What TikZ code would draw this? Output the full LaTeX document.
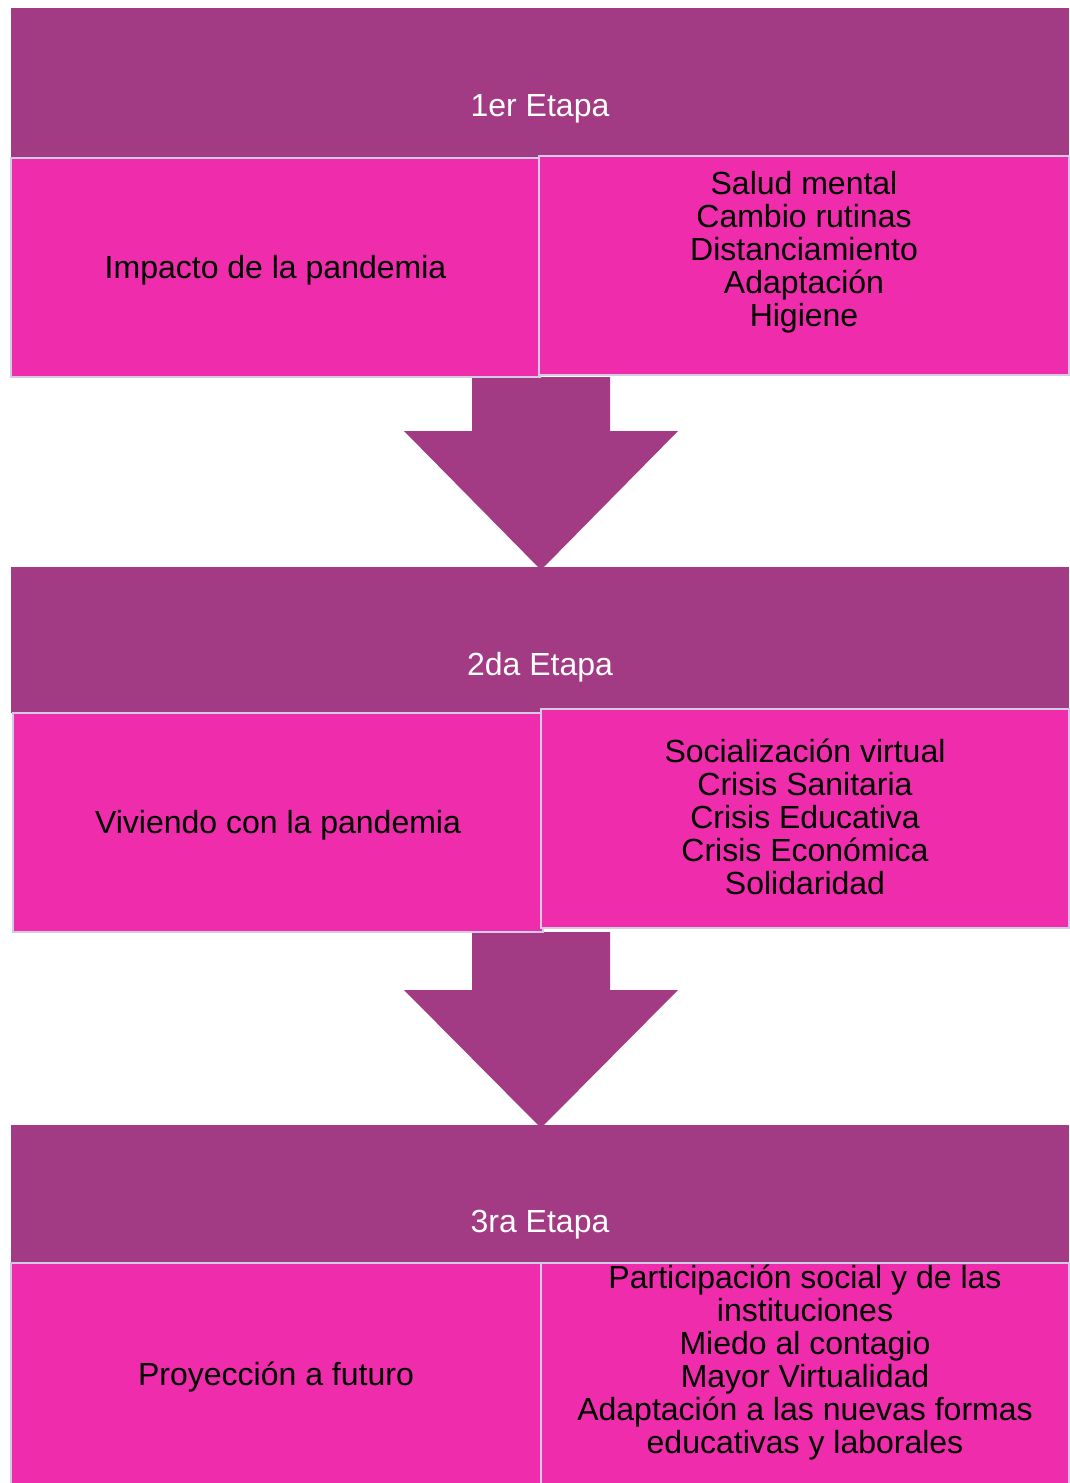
\documentclass[tikz,border=0pt]{standalone}
\usepackage{fontspec}
\setmainfont{Liberation Sans}
\definecolor{etapacol}{HTML}{A33A84}
\definecolor{cajacol}{HTML}{EE2CAC}
\definecolor{bordecol}{HTML}{D3CBE3}
\begin{document}
\begin{tikzpicture}[x=1pt,y=-1pt,
	cabecera/.style={fill=etapacol,minimum width=1058pt,inner sep=0pt},
	titulo/.style={text=white,font=\fontsize{32}{33}\selectfont},
	caja/.style={fill=cajacol,draw=bordecol,line width=2pt,minimum height=219pt,inner sep=0pt,align=center,font=\fontsize{32}{33}\selectfont},
	flecha/.style={fill=etapacol}]
		\useasboundingbox (0,0) rectangle (1069,1483);

		% etapas
		\node[cabecera,minimum height=150pt] (h1) at (540,83) {};
		\node[cabecera,minimum height=146pt] (h2) at (540,640) {};
		\node[cabecera,minimum height=138pt] (h3) at (540,1194) {};
		\node[titulo] (t1) at ([yshift=-26pt]h1.center) {1er Etapa};
		\node[titulo] (t2) at ([yshift=-27pt]h2.center) {2da Etapa};
		\node[titulo] (t3) at ([yshift=-31pt]h3.center) {3ra Etapa};

		% flechas
		\coordinate (p1) at (541,377);
		\coordinate (p2) at (541,932);
		\fill[flecha] (p1) ++(-69,0) -- ++(0,54) -- ++(-68,0) -- ++(137,139) -- ++(137,-139) -- ++(-68,0) -- ++(0,-54) -- cycle;
		\fill[flecha] (p2) ++(-69,0) -- ++(0,58) -- ++(-68,0) -- ++(137,138) -- ++(137,-138) -- ++(-68,0) -- ++(0,-58) -- cycle;

		% cajas
		\node[caja,minimum width=529pt,text depth=1pt] (l1) at (275.5,267.5) {Impacto de la pandemia};
		\node[caja,minimum width=530pt] (r1) at (804,265.5) {Salud mental\\Cambio rutinas\\Distanciamiento\\Adaptación\\Higiene\\\mbox{}};
		\node[caja,minimum width=530pt,text depth=1pt] (l2) at (278,822.5) {Viviendo con la pandemia};
		\node[caja,minimum width=528pt] (r2) at (805,818.5) {Socialización virtual\\Crisis Sanitaria\\Crisis Educativa\\Crisis Económica\\Solidaridad\\[-29pt]\mbox{}};
		\node[caja,minimum width=530pt,minimum height=223pt,text depth=1pt] (l3) at (276,1374.5) {Proyección a futuro};
		\node[caja,minimum width=528pt,minimum height=223pt] (r3) at (805,1374.5) {Participación social y de las\\instituciones\\Miedo al contagio\\Mayor Virtualidad\\Adaptación a las nuevas formas\\educativas y laborales\\[-2pt]\mbox{}};
\end{tikzpicture}
\end{document}
